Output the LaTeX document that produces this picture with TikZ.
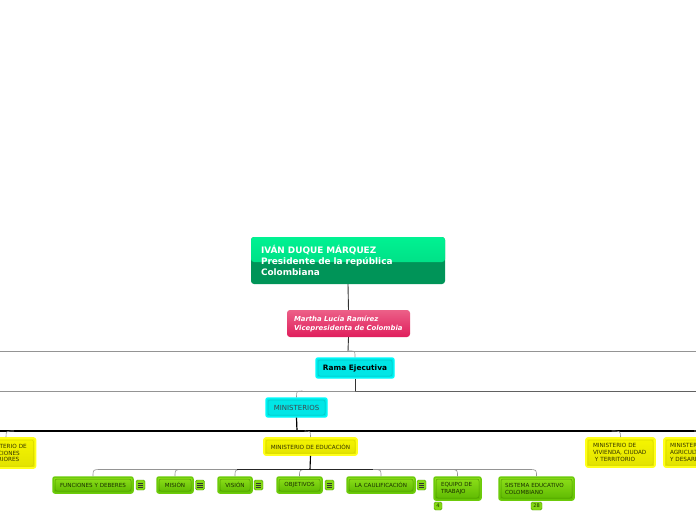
\documentclass[tikz,border=0pt]{standalone}
\usepackage{fontspec}
\setmainfont{DejaVu Sans}
\definecolor{prestop}{HTML}{00F292}
\definecolor{prestopb}{HTML}{00D27E}
\definecolor{presbot}{HTML}{009458}
\definecolor{martop}{HTML}{EC6088}
\definecolor{marbot}{HTML}{E01E5C}
\definecolor{cyout}{HTML}{00FCFC}
\definecolor{cyfill}{HTML}{00E6E6}
\definecolor{cyin}{HTML}{00C4C4}
\definecolor{yout}{HTML}{FFFF1A}
\definecolor{ytop}{HTML}{F6F600}
\definecolor{ybot}{HTML}{E2E200}
\definecolor{yin}{HTML}{D6D600}
\definecolor{ytext}{HTML}{333300}
\definecolor{gout}{HTML}{6CCB0A}
\definecolor{gtop}{HTML}{8EE01A}
\definecolor{gbot}{HTML}{5CB800}
\definecolor{gin}{HTML}{4E9E00}
\definecolor{gtext}{HTML}{1A3000}
\tikzset{
  conn/.style={draw=black!80, line width=0.9pt},
  gline/.style={draw=black!42, line width=0.6pt},
  innerrect/.style={path picture={\draw[#1, line width=0.5pt] ([xshift=2pt,yshift=-2pt]path picture bounding box.north west) rectangle ([xshift=-2pt,yshift=2pt]path picture bounding box.south east);}},
  cybox/.style={draw=cyout, line width=1.4pt, rounded corners=2pt, fill=cyfill, inner sep=0pt, innerrect=cyin},
  ybox/.style={draw=yout, line width=1.6pt, rounded corners=2pt, top color=ytop, bottom color=ybot, inner sep=0pt, text=ytext, font=\fontsize{5.7}{6.6}\selectfont, innerrect=yin},
  gbox/.style={draw=gout, line width=1.5pt, rounded corners=2pt, top color=gtop, bottom color=gbot, inner sep=0pt, text=gtext, font=\fontsize{5.6}{7}\selectfont, innerrect=gin},
  menuicon/.style={minimum width=9pt, minimum height=10pt, inner sep=0pt, fill=gtop!80!gbot, draw=gin, line width=0.4pt, rounded corners=1.5pt,
    path picture={\foreach \d in {-2.2,0,2.2}{\draw[line width=0.6pt, black!80] ([xshift=-2.6pt,yshift=\d pt]path picture bounding box.center) -- ([xshift=2.6pt,yshift=\d pt]path picture bounding box.center);}}},
  badge/.style={minimum height=8pt, inner sep=0pt, fill=gtop!80!gbot, draw=gin, line width=0.4pt, rounded corners=1.5pt, text=gtext, font=\fontsize{5}{5}\selectfont},
}
\begin{document}
\begin{tikzpicture}[x=1pt,y=-1pt]
\useasboundingbox (0,0) rectangle (696,520);
\clip (0,0) rectangle (696,520);
\fill[white] (0,0) rectangle (696,520);

% nodes
\node[rounded corners=3pt, fill=presbot, inner xsep=10pt, inner ysep=0pt, minimum height=47pt, text width=174pt, align=left, text=white,
  font=\bfseries\fontsize{8.9}{11}\selectfont,
  path picture={\shade[top color=prestop, bottom color=prestopb] (path picture bounding box.north west) rectangle ([yshift=-25pt]path picture bounding box.north east);}]
  (pres) at (348,260.5) {IVÁN DUQUE MÁRQUEZ\\Presidente de la república\\Colombiana};
\node[rounded corners=3pt, top color=martop, bottom color=marbot, inner xsep=7pt, inner ysep=0pt, minimum height=27pt, text width=109pt, align=left, text=white,
  font=\bfseries\itshape\fontsize{6.9}{9}\selectfont]
  (mar) at (348.5,323.5) {Martha Lucía Ramírez\\Vicepresidenta de Colombia};
\node[cybox, minimum width=78pt, minimum height=20pt, font=\bfseries\fontsize{7.4}{8}\selectfont, text=black] (rama) at (355,368) {Rama Ejecutiva};
\node[cybox, minimum width=61pt, minimum height=19pt, font=\fontsize{7}{8}\selectfont, text=black!80!cyan] (mini) at (296.5,407.5) {MINISTERIOS};

\node[ybox, minimum width=93pt, minimum height=17pt] (edu) at (310.5,446.5) {MINISTERIO DE EDUCACIÓN};
\node[ybox, inner xsep=7pt, text width=45pt, align=left, minimum height=30pt] (rel) at (6,453) {MINISTERIO DE\\RELACIONES\\EXTERIORES};
\node[ybox, inner xsep=7pt, text width=55pt, align=left, minimum height=29pt] (viv) at (620.5,452.5) {MINISTERIO DE\\VIVIENDA, CIUDAD\\\ Y TERRITORIO};
\node[ybox, inner xsep=6pt, text width=66pt, align=left, minimum height=29pt] (agr) at (703,452.5) {MINISTERIO DE\\AGRICULTURA\\Y DESARROLLO RURAL};

\node[gbox, minimum width=80pt, minimum height=16pt] (fun) at (93,485) {FUNCIONES Y DEBERES};
\node[gbox, minimum width=36pt, minimum height=16pt] (mis) at (175,485) {MISIÓN};
\node[gbox, minimum width=34pt, minimum height=16pt] (vis) at (235,485) {VISIÓN};
\node[gbox, minimum width=45pt, minimum height=16pt] (obj) at (299.5,485) {OBJETIVOS};
\node[gbox, minimum width=68pt, minimum height=16pt] (cau) at (381,485) {LA CAULIFICACIÓN};
\node[gbox, inner xsep=7pt, text width=33pt, align=left, minimum height=23pt] (equ) at (457.5,488.5) {EQUIPO DE\\TRABAJO};
\node[gbox, inner xsep=6pt, text width=63pt, align=left, minimum height=23pt] (sis) at (536.5,488.5) {SISTEMA EDUCATIVO\\COLOMBIANO};

\node[menuicon] (ifun) at (140.5,485) {};
\node[menuicon] (imis) at (200,485) {};
\node[menuicon] (ivis) at (258.5,485) {};
\node[menuicon] (iobj) at (329.5,485) {};
\node[menuicon] (icau) at (421.5,485) {};
\node[badge, minimum width=8pt] (bequ) at (438,506) {4};
\node[badge, minimum width=11pt] (bsis) at (536.5,506) {28};

% junctions
\coordinate (j1) at (348,351);
\coordinate (l1) at (0,351);
\coordinate (r1) at (696,351);
\coordinate (j2) at (355,391);
\coordinate (l2) at (0,391);
\coordinate (r2) at (696,391);
\coordinate (j3) at (297,431);
\coordinate (l3) at (0,431);
\coordinate (r3) at (696,431);
\coordinate (j4) at (310,469.5);

% connectors
\draw[conn] (pres.south) -- (mar.north);
\draw[gline] (l1) -- (r1);
\draw[conn] (mar.south) -- (j1);
\draw[gline] (j1) -- ([xshift=-4pt]rama.north |- j1) .. controls (rama.north |- j1) .. (rama.north);

\draw[gline] (l2) -- (j2);
\draw[draw=black!62, line width=0.9pt] (j2) -- (r2);
\draw[conn] (rama.south) -- (j2);
\draw[gline] ([xshift=6pt]mini.north |- j2) .. controls (mini.north |- j2) .. (mini.north);

\draw[draw=black, line width=1.3pt] (l3) -- (r3);
\draw[draw=black, line width=1.2pt] (mini.south) -- (j3);
\draw[gline] ([xshift=-6pt]edu.north |- j3) .. controls (edu.north |- j3) .. (edu.north);
\draw[gline] ([xshift=8pt]rel.north |- j3) .. controls (rel.north |- j3) .. (rel.north);
\draw[gline] ([xshift=-9pt]viv.north |- j3) .. controls (viv.north |- j3) .. (viv.north);
\draw[gline] ([xshift=-9pt]agr.north |- j3) .. controls (agr.north |- j3) .. (agr.north);

\foreach \c in {fun,mis,vis,obj}{
  \draw[gline] (j4) -- ([xshift=8pt]\c.north |- j4) .. controls (\c.north |- j4) .. (\c.north);
}
\foreach \c in {cau,equ,sis}{
  \draw[gline] (j4) -- ([xshift=-8pt]\c.north |- j4) .. controls (\c.north |- j4) .. (\c.north);
}
\draw[draw=black!85, line width=0.9pt] ([xshift=2pt]vis.north |- j4) -- ([xshift=-8pt]cau.north |- j4);
\draw[draw=black, line width=1.1pt] (edu.south) -- (j4);
\end{tikzpicture}
\end{document}
